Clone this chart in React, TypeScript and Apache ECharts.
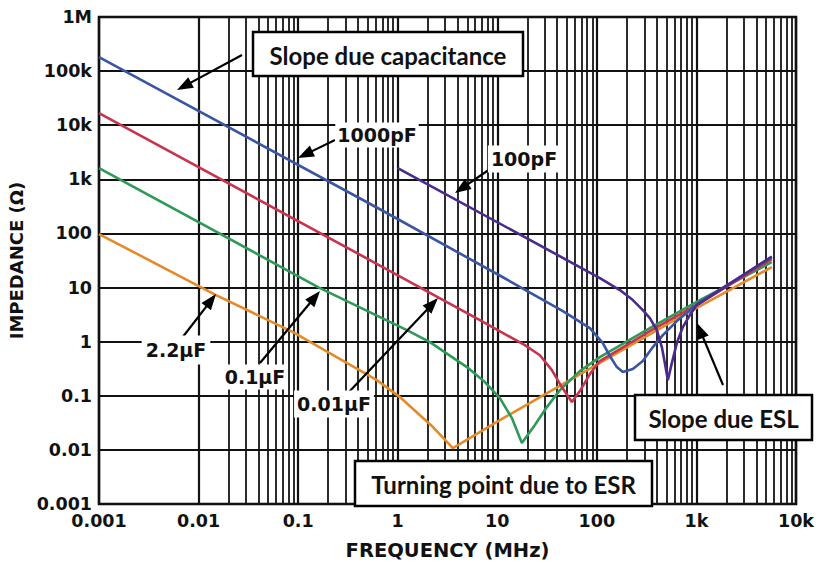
import React, { useEffect, useRef } from 'react';
import * as echarts from 'echarts';

// ---- Axis ticks ----
const xTickValues = [0.001, 0.01, 0.1, 1, 10, 100, 1000, 10000];
const xTickLabels = ['0.001', '0.01', '0.1', '1', '10', '100', '1k', '10k'];
const yTickValues = [0.001, 0.01, 0.1, 1, 10, 100, 1000, 10000, 100000, 1000000];
const yTickLabels = ['0.001', '0.01', '0.1', '1', '10', '100', '1k', '10k', '100k', '1M'];
const minorMultipliers = [2, 3, 4, 5, 6, 7, 8, 9];
const minorDecades = [0.001, 0.01, 0.1, 1, 10, 100, 1000];

// ---- Series (frequency MHz, impedance ohm) ----
const names = ['100pF', '1000pF', '0.01µF', '0.1µF', '2.2µF'];

const f100pF = [1, 107.2, 170.2, 229.8, 289.5, 340.5, 400.4, 449.4, 481.6, 516.3, 566.2, 635.6, 730, 858.6, 1009, 5715];
const z100pF = [1617, 15.0, 8.99, 5.87, 3.84, 2.73, 1.638, 0.795, 0.402, 0.195, 0.402, 0.942, 1.862, 3.10, 4.75, 37.5];

const f1000pF = [0.001, 0.663, 11.38, 45.6, 85.1, 114.9, 135.1, 158.8, 182.4, 229.8, 289.5, 365, 460, 635.6, 1082, 5715];
const z1000pF = [182000, 280, 15.5, 3.68, 1.78, 0.942, 0.542, 0.339, 0.274, 0.312, 0.438, 0.795, 1.324, 2.40, 5.40, 36.6];

const f10nF = [0.001, 0.663, 6.69, 11.92, 18.93, 26.78, 35.34, 44.5, 56.1, 67.5, 85.1, 107.2, 340.5, 1082, 5715];
const z10nF = [16800, 25.5, 2.51, 1.38, 0.865, 0.56, 0.2985, 0.1448, 0.0765, 0.1222, 0.252, 0.438, 1.57, 5.17, 33.6];

const f100nF = [0.001, 0.1618, 1.237, 2.105, 4.952, 7.508, 10.62, 14.02, 17.66, 23.85, 31.48, 42.5, 67.5, 107.2, 340.5, 1082, 5715];
const z100nF = [1617, 10.0, 1.638, 0.983, 0.339, 0.179, 0.0907, 0.0387, 0.01335, 0.02873, 0.0618, 0.1274, 0.286, 0.519, 1.784, 5.87, 29.6];

const f2u2F = [0.001, 0.01496, 0.0888, 0.618, 1.05, 2.26, 3.58, 10.62, 681, 5715];
const z2u2F = [97.5, 7.27, 1.50, 0.195, 0.0946, 0.0264, 0.0108, 0.0356, 2.85, 23.9];

const colors = ['#4a2b8c', '#3a56a2', '#c8344e', '#2e9a57', '#e38b2b'];

const pair = (f: number[], z: number[]) => f.map((v, i) => [v, z[i]]);

const labelFor = (vals: number[], labs: string[]) => (v: number) => {
  const e = Math.round(Math.log10(v));
  const i = vals.findIndex((t) => Math.round(Math.log10(t)) === e);
  return i >= 0 ? labs[i] : '';
};

const arrow = (x1: number, y1: number, x2: number, y2: number) => {
  const dx = x2 - x1;
  const dy = y2 - y1;
  const len = Math.sqrt(dx * dx + dy * dy);
  const ux = dx / len;
  const uy = dy / len;
  const L = 16;
  const W = 6;
  const bx = x2 - ux * L;
  const by = y2 - uy * L;
  return [
    { type: 'line', z: 100, shape: { x1, y1, x2: bx + ux * 2, y2: by + uy * 2 }, style: { stroke: '#000', lineWidth: 2.2 } },
    {
      type: 'polygon',
      z: 100,
      shape: { points: [[x2, y2], [bx - uy * W, by + ux * W], [bx + uy * W, by - ux * W]] },
      style: { fill: '#000' },
    },
  ];
};

const curveLabel = (text: string, x: number, y: number, pad: number[]) => ({
  type: 'text',
  z: 101,
  x,
  y,
  style: {
    text,
    font: 'bold 19px "DejaVu Sans"',
    fill: '#111',
    align: 'center',
    verticalAlign: 'middle',
    textAlign: 'center',
    textVerticalAlign: 'middle',
    backgroundColor: '#fff',
    padding: pad,
  },
});

const box = (text: string, x: number, y: number, w: number, h: number) => [
  { type: 'rect', z: 100, shape: { x, y, width: w, height: h }, style: { fill: '#fff', stroke: '#000', lineWidth: 2.5 } },
  {
    type: 'text',
    z: 101,
    x: x + w / 2,
    y: y + h / 2 + 1,
    style: {
      text,
      font: 'bold 24px Lato',
      fill: '#111',
      align: 'center',
      verticalAlign: 'middle',
      textAlign: 'center',
      textVerticalAlign: 'middle',
    },
  },
];

export default function App() {
  const ref = useRef<HTMLDivElement>(null);
  useEffect(() => {
    document.body.style.margin = '0';
    if (!ref.current) return;
    const chart = echarts.init(ref.current, undefined, { renderer: 'svg' });
    const minorX: number[] = [];
    minorDecades.forEach((d) => minorMultipliers.forEach((m) => minorX.push(d * m)));
    const series: any[] = [
      {
        type: 'line',
        name: 'grid',
        z: 1,
        silent: true,
        symbol: 'none',
        data: [[1, 1]],
        lineStyle: { opacity: 0 },
        markLine: {
          silent: true,
          symbol: 'none',
          animation: false,
          label: { show: false },
          lineStyle: { color: '#151515', width: 1.8, type: 'solid' },
          data: minorX.map((v) => ({ xAxis: v })),
        },
      },
    ];
    const datasets = [pair(f100pF, z100pF), pair(f1000pF, z1000pF), pair(f10nF, z10nF), pair(f100nF, z100nF), pair(f2u2F, z2u2F)];
    const order = [4, 3, 2, 1, 0];
    order.forEach((i) => {
      series.push({
        type: 'line',
        name: names[i],
        z: 5,
        symbol: 'none',
        data: datasets[i],
        lineStyle: { color: colors[i], width: 2.6 },
      });
    });

    const graphic: any[] = [
      ...box('Slope due capacitance', 253, 32, 270, 44),
      ...box('Slope due ESL', 635, 395, 177, 45),
      ...box('Turning point due to ESR', 355, 461, 297, 45),
      ...arrow(242, 55, 177, 90),
      ...arrow(335, 140, 298, 158),
      ...arrow(490, 169, 455, 193),
      ...arrow(182, 338, 216, 294),
      ...arrow(260, 363, 320, 291),
      ...arrow(348, 393, 438, 298),
      ...arrow(723, 385, 697, 323),
      curveLabel('1000pF', 377, 135, [3, 2]),
      curveLabel('100pF', 524, 159, [4, 3]),
      curveLabel('2.2µF', 176, 350, [5, 4]),
      curveLabel('0.1µF', 255, 377, [3, 2]),
      curveLabel('0.01µF', 334, 404, [4, 3]),
    ];

    const tickFont = { fontFamily: 'DejaVu Sans', fontWeight: 'bold' as const, fontSize: 17.5, color: '#111' };

    chart.setOption({
      animation: false,
      backgroundColor: '#fff',
      grid: {
        left: 99,
        top: 17,
        right: 22,
        bottom: 59,
        show: true,
        borderColor: '#000',
        borderWidth: 2.5,
        containLabel: false,
        outerBoundsMode: 'none',
      },
      xAxis: {
        type: 'log',
        logBase: 10,
        min: 0.001,
        max: 10000,
        splitNumber: 10,
        name: 'FREQUENCY (MHz)',
        nameLocation: 'middle',
        nameGap: 36,
        nameTextStyle: { fontFamily: 'DejaVu Sans', fontWeight: 'bold', fontSize: 19.5, color: '#111' },
        axisLine: { show: false },
        axisTick: { show: false },
        axisLabel: { ...tickFont, margin: 8, showMinLabel: true, showMaxLabel: true, formatter: labelFor(xTickValues, xTickLabels) },
        splitLine: { show: true, lineStyle: { color: '#111', width: 2.2 } },
      },
      yAxis: {
        type: 'log',
        logBase: 10,
        min: 0.001,
        max: 1000000,
        splitNumber: 10,
        name: 'IMPEDANCE (Ω)',
        nameLocation: 'middle',
        nameGap: 66,
        nameRotate: 90,
        nameTextStyle: { fontFamily: 'DejaVu Sans', fontWeight: 'bold', fontSize: 18, color: '#111' },
        axisLine: { show: false },
        axisTick: { show: false },
        axisLabel: { ...tickFont, margin: 7, showMinLabel: true, showMaxLabel: true, formatter: labelFor(yTickValues, yTickLabels) },
        splitLine: { show: true, lineStyle: { color: '#111', width: 2.2 } },
      },
      series,
      graphic,
    });
    return () => chart.dispose();
  }, []);
  return <div ref={ref} style={{ width: 818, height: 563 }} />;
}
